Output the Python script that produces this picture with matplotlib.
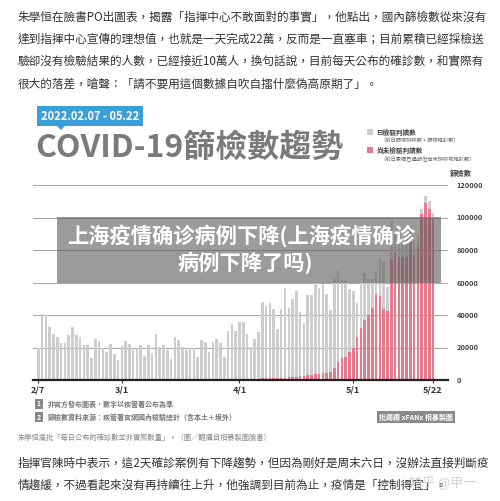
import numpy as np
import pandas as pd
import matplotlib
matplotlib.use('Agg')
from matplotlib import pyplot as plt
from matplotlib.patches import Rectangle, Polygon

plt.rcParams['font.family'] = ['Noto Sans CJK TC', 'DejaVu Sans']

# 日期 2/7 ~ 5/22
dates = pd.date_range('2022-02-07', '2022-05-22')
tick_labels = ['2/7', '3/1', '4/1', '5/1', '5/22']
tick_dates = ['2022-02-07', '2022-03-01', '2022-04-01', '2022-05-01', '2022-05-22']

# 已檢驗判讀數
checked = [19400, 40500, 40000, 32700, 28200, 26200, 22500, 22500, 27600, 32700,
           27600, 26600, 21500, 21500, 13300, 25000, 23900, 19400, 17400, 22100,
           15900, 12300, 20900, 24000, 22100, 19800, 19800, 21500, 14700, 21500,
           16800, 28200, 20500, 21500, 18600, 12900, 26200, 24500, 20500, 18600,
           19800, 19800, 14300, 24500, 23300, 17400, 23300, 25300, 22700, 14300,
           30300, 34400, 30300, 35400, 35400, 28600, 20500, 25000, 29600, 48000,
           45400, 47400, 44000, 31300, 44000, 56900, 44600, 49700, 54800, 41900,
           35200, 52100, 52100, 60300, 56900, 59300, 53200, 42900, 62400, 66900,
           61300, 61000, 56300, 54800, 47400, 59700, 65800, 62400, 62000, 67100,
           74700, 72600, 57000, 98000, 90000, 86000, 85000, 90000, 94000, 86000,
           90000, 105000, 113000, 110000, 103000]
# 尚未檢驗判讀數
pending = [0] * 41 + [300, 300, 400, 400, 400, 500, 500, 500, 600, 600,
                      600, 700, 700, 800, 800, 800, 900, 900, 1000, 1000,
                      1100, 1200, 1300, 1400, 1500, 1700, 1900, 2100, 2300, 2600,
                      2900, 3200, 3500, 3800, 4200, 4500, 5100, 7200, 11300, 13300,
                      14300, 17400, 19400, 26600, 31700, 37200, 39900, 44600, 53200, 51500,
                      44000, 42500, 73600, 78100, 75700, 75700, 75700, 84800, 76700, 81800,
                      102300, 108800, 105400, 99200]
yticks = [0, 20000, 40000, 60000, 80000, 100000, 120000]

W, H = 500, 501


def fx(x):
    return x / W


def fy(y):
    return 1 - y / H


fig = plt.figure(figsize=(5.0, 5.01), dpi=100)
fig.patch.set_facecolor('white')

# 文章上方文字
top_lines = ['朱學恒在臉書PO出圖表，揭露「指揮中心不敢面對的事實」，他點出，國內篩檢數從來沒有',
             '達到指揮中心宣傳的理想值，也就是一天完成22萬，反而是一直塞車；目前累積已經採檢送',
             '驗卻沒有檢驗結果的人數，已經接近10萬人，換句話說，目前每天公布的確診數，和實際有',
             '很大的落差，嗆聲：「請不要用這個數據自吹自擂什麼偽高原期了」。']
for i, s in enumerate(top_lines):
    fig.text(fx(18), fy(17 + i * 22.3), s, fontsize=8.4, color='#333333', va='center')

# 主圖
ax = fig.add_axes([fx(33), fy(380), fx(448) - fx(33), fy(185) - fy(380)])
x = np.arange(len(dates))
ax.bar(x, checked, width=0.68, color='#cdcdcd', zorder=2)
ax.bar(x, pending, width=0.68, color='#e47a8c', zorder=3)
ax.set_xlim(-1.4, 107.95)
ax.set_ylim(0, 120000)
ax.set_yticks(yticks)
ax.set_yticklabels([str(v) for v in yticks], fontsize=5.3, fontweight='bold', color='#444444')
ax.yaxis.tick_right()
ax.tick_params(axis='y', length=0, pad=6)
pos = [list(dates).index(pd.Timestamp(d)) for d in tick_dates]
ax.set_xticks(pos)
ax.set_xticklabels(tick_labels, fontsize=6.5, fontweight='bold', color='#333333')
ax.tick_params(axis='x', length=2, pad=2, color='#333333')
ax.grid(axis='y', color='#aaaaaa', lw=0.8, zorder=0)
for sp in ['top', 'right', 'left']:
    ax.spines[sp].set_visible(False)
ax.spines['bottom'].set_color('#222222')
ax.spines['bottom'].set_linewidth(1.6)
ax.spines['bottom'].set_zorder(4)
ax.text(1.004, 1.06, '篩檢數', transform=ax.transAxes, fontsize=5.3, fontweight='bold',
        color='#444444', va='center')

# 日期標籤
fig.text(fx(41), fy(116), '2022.02.07 - 05.22', fontsize=8, fontweight='bold', color='white',
         va='center', bbox=dict(boxstyle='square,pad=0.35', fc='#3d9fd9', ec='none'))
fig.patches.append(Polygon([[fx(57), fy(126)], [fx(65), fy(126)], [fx(61), fy(130)]],
                           closed=True, transform=fig.transFigure, fc='#3d9fd9', ec='none'))
fig.text(fx(35), fy(148), 'COVID-19篩檢數趨勢', fontsize=23, fontweight='bold',
         color='#7a7a7a', va='center')

# 圖例
fig.patches.append(Rectangle((fx(367), fy(135)), 6 / W, 6 / H, transform=fig.transFigure,
                             fc='#cdcdcd', ec='none'))
fig.text(fx(376), fy(132), '已檢驗判讀數', fontsize=4.8, fontweight='bold', color='#444444', va='center')
fig.text(fx(380), fy(141), '（前日篩檢排除數＋篩檢確診數）', fontsize=3.8, color='#666666', va='center')
fig.patches.append(Rectangle((fx(367), fy(153)), 6 / W, 6 / H, transform=fig.transFigure,
                             fc='#e47a8c', ec='none'))
fig.text(fx(376), fy(150), '尚未檢驗判讀數', fontsize=4.8, fontweight='bold', color='#444444', va='center')
fig.text(fx(380), fy(159), '（前日累積已通報但尚未排除或確診數）', fontsize=3.8, color='#666666', va='center')

# 註解
notes = ['非官方發布圖表，數字以疾管署公布為準', '篩檢數資料來源：疾管署官網國內檢驗總計（含本土＋境外）']
for i, s in enumerate(notes):
    yy = 404 + i * 13
    fig.text(fx(39), fy(yy), str(i + 1), fontsize=5, fontweight='bold', color='white', va='center',
             ha='center', bbox=dict(boxstyle='square,pad=0.25', fc='#888888', ec='none'))
    fig.text(fx(48), fy(yy), s, fontsize=5, fontweight='bold', color='#777777', va='center')
fig.text(fx(416), fy(417), '批踢踢 xFANx 相暴製圖', fontsize=5, fontweight='bold', color='white',
         va='center', ha='center', bbox=dict(boxstyle='square,pad=0.35', fc='#8a8a8a', ec='none'))

fig.text(fx(18), fy(438), '朱學恒痛批「每日公布的確診數並非實際數量」。（圖／翻攝自相暴製圖臉書）',
         fontsize=5.2, color='#888888', va='center')

bottom_lines = ['指揮官陳時中表示，這2天確診案例有下降趨勢，但因為剛好是周末六日，沒辦法直接判斷疫',
                '情趨緩，不過看起來沒有再持續往上升，他強調到目前為止，疫情是「控制得宜」。']
for i, s in enumerate(bottom_lines):
    fig.text(fx(18), fy(463 + i * 22.3), s, fontsize=8.4, color='#333333', va='center')
# 浮水印 (原圖即疊在文字上)
fig.text(fx(409), fy(483), '知乎 @甲一', fontsize=9.4, color='#c8c8c8', va='center', alpha=0.85,
         family=['Noto Sans CJK SC', 'DejaVu Sans'])

# 標題遮罩
fig.patches.append(Rectangle((fx(57), fy(283)), (441 - 57) / W, (283 - 217) / H,
                             transform=fig.transFigure, fc='#5e5e5e', ec='none', alpha=0.62, zorder=10))
fig.text(fx(241), fy(236), '上海疫情确诊病例下降(上海疫情确诊', fontsize=15.3, fontweight='bold',
         color='white', ha='center', va='center', zorder=11, family=['Noto Sans CJK SC', 'DejaVu Sans'])
fig.text(fx(245), fy(263), '病例下降了吗)', fontsize=15.3, fontweight='bold',
         color='white', ha='center', va='center', zorder=11, family=['Noto Sans CJK SC', 'DejaVu Sans'])

plt.savefig('out.png', dpi=100)
